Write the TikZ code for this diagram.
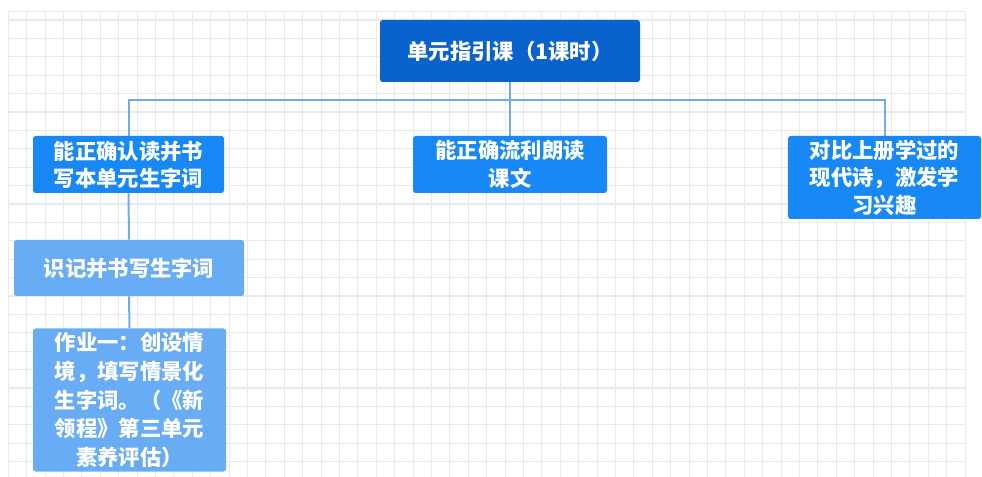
\documentclass[tikz,border=0pt]{standalone}
\usepackage{fontspec}
\newfontfamily\cjk{Noto Sans CJK SC}
\definecolor{rootblue}{RGB}{10,98,204}
\definecolor{midblue}{RGB}{24,136,246}
\definecolor{lightblue}{RGB}{104,172,245}
\definecolor{linkblue}{RGB}{112,170,240}
\definecolor{gridgray}{RGB}{234,234,234}
\tikzset{
  box/.style={rounded corners=2pt,inner sep=0pt,align=center,text=white,
    font=\cjk\bfseries\fontsize{16}{20.5}\selectfont},
  link/.style={draw=linkblue,line width=1.5pt},
  gridline/.style={draw=gridgray,line width=0.8pt}
}
\begin{document}
\begin{tikzpicture} [x=0.75pt,y=-0.75pt]
  \useasboundingbox (0,0) rectangle (982,477);
  % background grid
  \foreach \i in {0,...,52}
    \draw[gridline] ({8.3+18.4*\i},11.7) -- ({8.3+18.4*\i},477);
  \foreach \j in {0,...,24}
    \draw[gridline] (8.3,{20+18.4*\j}) -- (965.1,{20+18.4*\j});
  \draw[gridline] (8.3,11.7) -- (965.1,11.7);

  \node[box,fill=rootblue,minimum width=195pt,minimum height=46.5pt] (root) at (510,51) {单元指引课（1课时）};

  \node[box,fill=midblue,minimum width=143.25pt,minimum height=42.75pt] (read) at (128.5,164.5) {能正确认读并书\\写本单元生字词};
  \node[box,fill=midblue,minimum width=145.5pt,minimum height=42.75pt] (fluent) at (510,164.5) {能正确流利朗读\\课文};
  \node[box,fill=midblue,minimum width=144.75pt,minimum height=62.25pt] (poem) at (884.5,177.5) {对比上册学过的\\现代诗，激发学\\习兴趣};

  \node[box,fill=lightblue,minimum width=172.5pt,minimum height=42pt] (write) at (129,268) {识记并书写生字词};
  \node[box,fill=lightblue,minimum width=144.75pt,minimum height=107.25pt,
    font=\cjk\bfseries\fontsize{16}{21.5}\selectfont] (task) at (129.5,400) {作业一：创设情\\境，填写情景化\\生字词。（《新\\领程》第三单元\\素养评估）};

  \foreach \to in {read,fluent,poem}
    \draw[link] (root.south) -- ++(0,18) -| (\to.north);
  \foreach \from/\to in {read/write,write/task}
    \draw[link] (\from.south) -- (\to.north);
\end{tikzpicture}
\end{document}
